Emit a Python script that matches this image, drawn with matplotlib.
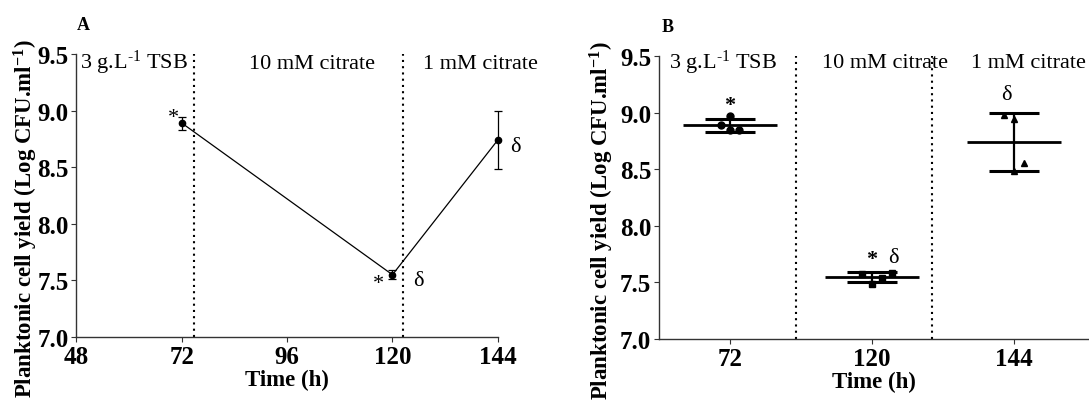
import numpy as np
import matplotlib
matplotlib.use("Agg")
import matplotlib.pyplot as plt

plt.rcParams["font.family"] = "Liberation Serif"
plt.rcParams["mathtext.fontset"] = "custom"
plt.rcParams["mathtext.rm"] = "Liberation Serif"
plt.rcParams["mathtext.it"] = "Liberation Serif:italic"
plt.rcParams["mathtext.bf"] = "Liberation Serif:bold"

# data
hours = [72, 120, 144]
means = [8.89, 7.55, 8.74]
sds = [0.057, 0.042, 0.26]

# replicate values (panel B)
rep_72 = [8.97, 8.89, 8.85, 8.85]
rep_120 = [7.57, 7.49, 7.535, 7.585]
rep_144 = [8.98, 8.94, 8.555, 8.48]
jit_72 = [0.0, -0.064, 0.0, 0.066]
jit_120 = [-0.07, 0.0, 0.07, 0.14]
jit_144 = [-0.07, 0.0, 0.07, 0.0]

media = [r"3 g.L$^{\text{-}1}$ TSB", "10 mM citrate", "1 mM citrate"]
switch_h = [74.8, 122.4]
ylabel = r"Planktonic cell yield (Log CFU.ml$^{\mathbf{-1}}$)"

fig = plt.figure(figsize=(10.89, 4.02), dpi=100)
axA = fig.add_axes([0.0702, 0.1592, 0.3869, 0.704])
axB = fig.add_axes([0.6052, 0.1542, 0.3949, 0.704])

def style(ax):
    ax.spines["right"].set_visible(False)
    ax.spines["top"].set_visible(False)
    for s in ("left", "bottom"):
        ax.spines[s].set_linewidth(1.0)
        ax.spines[s].set_color("#333333")
    ax.tick_params(length=3.6, width=0.8, color="#333333", labelsize=18, pad=2)
    ax.set_ylim(7.0, 9.5)
    ax.set_yticks([7.0, 7.5, 8.0, 8.5, 9.0, 9.5])
    ax.set_yticklabels(["7.0", "7.5", "8.0", "8.5", "9.0", "9.5"], fontweight="bold")
    ax.set_xlabel("Time (h)", fontsize=16.5, fontweight="bold", labelpad=1)
    ax.set_ylabel(ylabel, fontsize=16.5, fontweight="bold")

# ---- panel A
style(axA)
axA.set_xlim(48, 144)
axA.set_xticks([48, 72, 96, 120, 144])
axA.set_xticklabels(["48", "72", "96", "120", "144"], fontweight="bold")
axA.errorbar(hours, means, yerr=sds, color="black", lw=0.9, marker="o", ms=4.5,
             capsize=3, elinewidth=0.9, capthick=0.9, clip_on=False, zorder=3)
for h in switch_h:
    axA.axvline(h, color="black", lw=1.5, ls=(0, (1, 2)))
axA.text(48.8, 9.38, media[0], fontsize=16)
axA.text(101.6, 9.38, media[1], fontsize=16, ha="center")
axA.text(127.0, 9.38, media[2], fontsize=16, clip_on=False)
axA.text(70.0, 8.90, "*", fontsize=16, ha="center")
axA.text(116.9, 7.43, "*", fontsize=16, ha="center")
axA.text(125.8, 7.46, "δ", fontsize=16, ha="center")
axA.text(148.1, 8.64, "δ", fontsize=16, ha="center", clip_on=False)
axA.yaxis.set_label_coords(-0.086, 0.42)
axA.text(-0.0, 1.09, "A", transform=axA.transAxes, fontsize=13, fontweight="bold")

# ---- panel B
style(axB)
axB.set_xlim(-0.5, 2.53)
axB.set_xticks([0, 1, 2])
axB.set_xticklabels([str(h) for h in hours], fontweight="bold")
reps = [rep_72, rep_120, rep_144]
jits = [jit_72, jit_120, jit_144]
marks = ["o", "s", "^"]
for i in range(3):
    axB.hlines(means[i], i - 0.33, i + 0.33, color="black", lw=2.0, zorder=2)
    axB.errorbar(i, means[i], yerr=sds[i], fmt="none", ecolor="black",
                 elinewidth=1.6, capsize=18, capthick=2.2, zorder=2)
    axB.plot(np.array(jits[i]) + i, reps[i], ls="none", marker=marks[i],
             color="black", ms=5, zorder=3)
axB.axvline(0.465, color="black", lw=1.5, ls=(0, (1, 2)))
axB.axvline(1.42, color="black", lw=1.5, ls=(0, (1, 2)))
axB.text(-0.43, 9.40, media[0], fontsize=16)
axB.text(0.65, 9.40, media[1], fontsize=16)
axB.text(1.70, 9.40, media[2], fontsize=16, clip_on=False)
axB.text(0.0, 9.02, "*", fontsize=16, ha="center", fontweight="bold")
axB.text(1.95, 9.12, "δ", fontsize=16, ha="center")
axB.text(1.0, 7.66, "*", fontsize=16, ha="center", fontweight="bold")
axB.text(1.15, 7.68, "δ", fontsize=16, ha="center")
axB.yaxis.set_label_coords(-0.10, 0.42)
axB.text(0.007, 1.09, "B", transform=axB.transAxes, fontsize=13, fontweight="bold")

fig.savefig("out.png", dpi=100)
